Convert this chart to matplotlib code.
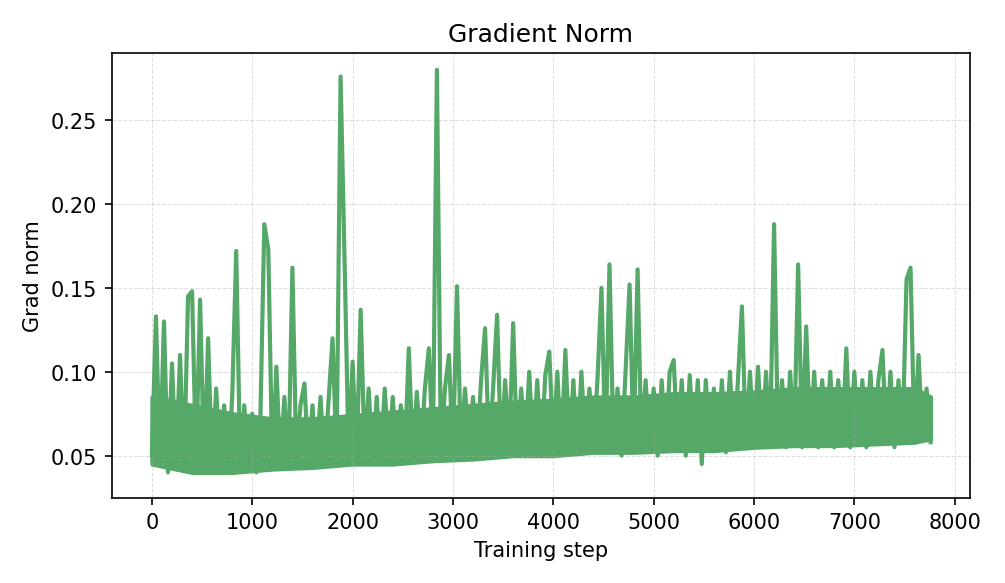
import numpy as np
import matplotlib
matplotlib.use("Agg")
import matplotlib.pyplot as plt

grad_norm = [
    0.05, 0.133, 0.045, 0.13, 0.04, 0.105, 0.044, 0.11, 0.042, 0.145,
    0.148, 0.045, 0.143, 0.042, 0.12, 0.04, 0.09, 0.045, 0.08, 0.042,
    0.085, 0.172, 0.043, 0.08, 0.045, 0.075, 0.04, 0.07, 0.188, 0.173,
    0.042, 0.103, 0.045, 0.085, 0.043, 0.162, 0.045, 0.08, 0.093, 0.046,
    0.08, 0.047, 0.085, 0.045, 0.083, 0.12, 0.048, 0.276, 0.166, 0.05,
    0.106, 0.048, 0.137, 0.05, 0.09, 0.045, 0.085, 0.047, 0.09, 0.05,
    0.085, 0.047, 0.08, 0.05, 0.114, 0.048, 0.088, 0.05, 0.09, 0.114,
    0.052, 0.28, 0.05, 0.09, 0.11, 0.05, 0.151, 0.052, 0.09, 0.055,
    0.085, 0.05, 0.095, 0.126, 0.052, 0.09, 0.134, 0.05, 0.095, 0.055,
    0.129, 0.05, 0.09, 0.055, 0.1, 0.052, 0.095, 0.05, 0.098, 0.112,
    0.055, 0.1, 0.052, 0.113, 0.055, 0.095, 0.053, 0.1, 0.055, 0.09,
    0.055, 0.095, 0.15, 0.053, 0.164, 0.055, 0.09, 0.05, 0.1, 0.152,
    0.055, 0.161, 0.052, 0.095, 0.055, 0.09, 0.05, 0.095, 0.054, 0.1,
    0.107, 0.055, 0.095, 0.05, 0.098, 0.055, 0.095, 0.045, 0.095, 0.055,
    0.09, 0.055, 0.095, 0.052, 0.1, 0.055, 0.095, 0.139, 0.055, 0.1,
    0.055, 0.103, 0.058, 0.1, 0.055, 0.188, 0.058, 0.095, 0.055, 0.1,
    0.058, 0.164, 0.055, 0.127, 0.058, 0.1, 0.055, 0.095, 0.058, 0.1,
    0.055, 0.095, 0.058, 0.114, 0.055, 0.1, 0.058, 0.095, 0.055, 0.1,
    0.058, 0.095, 0.113, 0.058, 0.1, 0.055, 0.095, 0.058, 0.155, 0.162,
    0.058, 0.11, 0.06, 0.09, 0.058,
]
steps = np.arange(len(grad_norm)) * 40

# dense noise band (lower / upper envelope)
band_steps = [0, 400, 800, 1200, 1600, 2000, 2400, 2800, 3200, 3600, 4000,
              4400, 4800, 5200, 5600, 6000, 6400, 6800, 7200, 7600, 7760]
band_low = [0.045, 0.04, 0.04, 0.042, 0.043, 0.045, 0.045, 0.047, 0.048, 0.05, 0.05,
            0.052, 0.052, 0.053, 0.053, 0.055, 0.056, 0.056, 0.057, 0.058, 0.06]
band_high = [0.085, 0.08, 0.075, 0.072, 0.072, 0.074, 0.076, 0.078, 0.08, 0.082, 0.083,
             0.085, 0.085, 0.087, 0.087, 0.088, 0.09, 0.09, 0.09, 0.09, 0.085]

color = "#55a868"
fig, ax = plt.subplots(figsize=(6.7, 3.893), dpi=150)
ax.fill_between(band_steps, band_low, band_high, color=color, linewidth=2, edgecolor=color)
ax.plot(steps, grad_norm, color=color, linewidth=2)
ax.set_title("Gradient Norm")
ax.set_xlabel("Training step")
ax.set_ylabel("Grad norm")
ax.set_xlim(-400, 8150)
ax.set_ylim(0.025, 0.29)
ax.set_yticks([0.05, 0.10, 0.15, 0.20, 0.25])
ax.grid(True, linestyle="--", linewidth=0.5, alpha=0.4)
fig.tight_layout()
fig.savefig("out.png")
